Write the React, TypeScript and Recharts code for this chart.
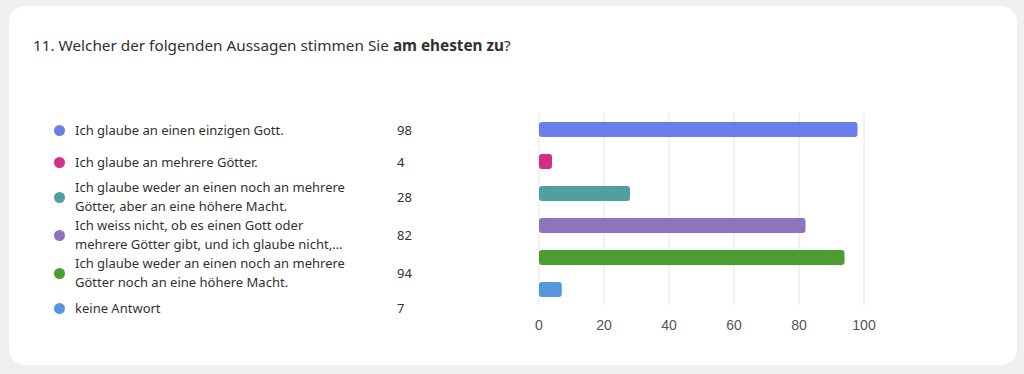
import { BarChart, Bar, XAxis, YAxis, CartesianGrid, Cell } from "recharts";

const answers = [
  "Ich glaube an einen einzigen Gott.",
  "Ich glaube an mehrere Götter.",
  "Ich glaube weder an einen noch an mehrere Götter, aber an eine höhere Macht.",
  "Ich weiss nicht, ob es einen Gott oder mehrere Götter gibt, und ich glaube nicht,…",
  "Ich glaube weder an einen noch an mehrere Götter noch an eine höhere Macht.",
  "keine Antwort",
];
const counts = [98, 4, 28, 82, 94, 7];
const colors = ["#6a7fe9", "#d22f88", "#529fa1", "#8e74ba", "#4c9c31", "#5596dc"];
const xTicks = [0, 20, 40, 60, 80, 100];

const data = answers.map((name, i) => ({ name, value: counts[i] }));

const font = "'Noto Sans', 'Open Sans', sans-serif";

function Legend() {
  return (
    <div style={{ position: "absolute", left: 54, top: 114, width: 380 }}>
      {answers.map((a, i) => (
        <div key={i} style={{ display: "flex", alignItems: "center", minHeight: 32 }}>
          <span style={{ width: 11, height: 11, borderRadius: "50%", background: colors[i], marginRight: 10, flexShrink: 0 }} />
          <span style={{ width: 280, fontSize: 13, lineHeight: "19px", color: "#323130" }}>{a}</span>
          <span style={{ marginLeft: 42, fontSize: 13, color: "#323130" }}>{counts[i]}</span>
        </div>
      ))}
    </div>
  );
}

export default function App() {
  return (
    <div style={{ position: "absolute", left: 0, top: 0, width: 1024, height: 374, background: "#f0f0f0", fontFamily: font }}>
      <div style={{ position: "absolute", left: 9, top: 6, width: 1008, height: 359, background: "#fff", borderRadius: 16 }} />
      <div style={{ position: "absolute", left: 33, top: 35, fontSize: 15.3, color: "#323130" }}>
        11. Welcher der folgenden Aussagen stimmen Sie <b>am ehesten zu</b>?
      </div>
      <Legend />
      <div style={{ position: "absolute", left: 500, top: 100 }}>
        <BarChart
          width={400}
          height={240}
          data={data}
          layout="vertical"
          margin={{ top: 13, right: 36, left: 39, bottom: 5 }}
        >
          <CartesianGrid horizontal={false} stroke="#e4e4e4" />
          <XAxis
            type="number"
            domain={[0, 100]}
            ticks={xTicks}
            axisLine={false}
            tickLine={false}
            dy={7}
            tick={{ fill: "#555", fontSize: 14, fontFamily: "Arial, 'Liberation Sans', sans-serif" }}
          />
          <YAxis type="category" dataKey="name" hide />
          <Bar dataKey="value" barSize={15} radius={3} isAnimationActive={false}>
            {data.map((d, i) => (
              <Cell key={d.name} fill={colors[i]} />
            ))}
          </Bar>
        </BarChart>
      </div>
    </div>
  );
}
